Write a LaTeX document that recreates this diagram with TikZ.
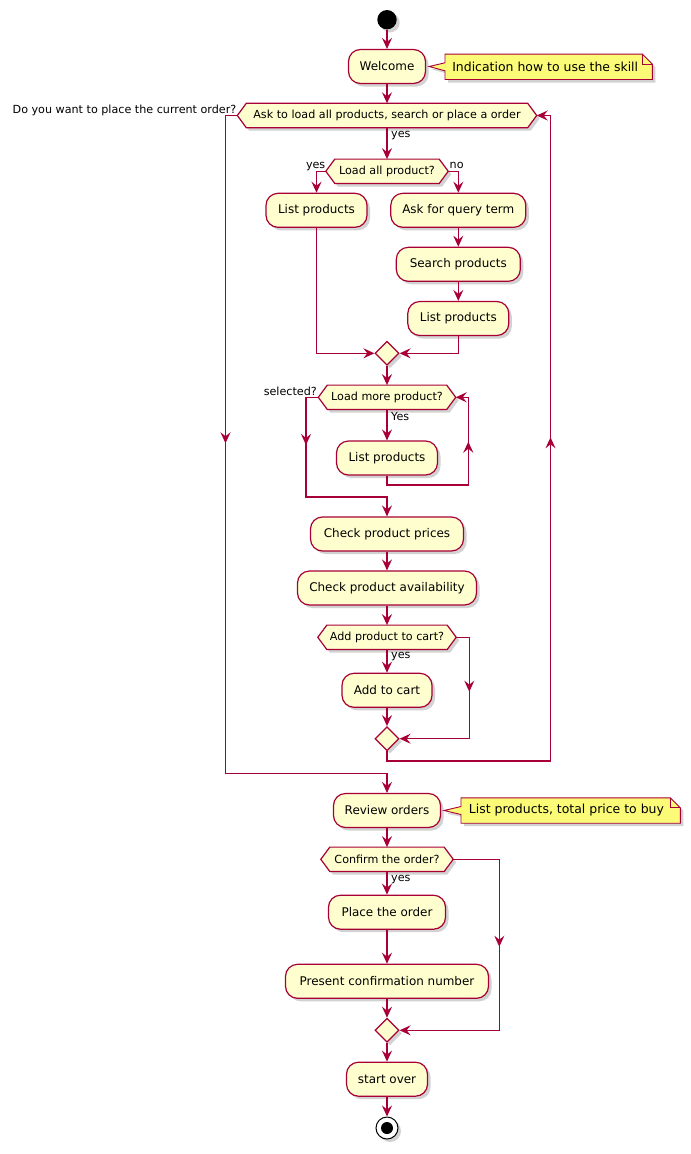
\documentclass[tikz,border=0pt]{standalone}
\usepackage{fontspec}
\setmainfont{DejaVu Sans}
\usetikzlibrary{shapes.geometric,arrows.meta,shadows,backgrounds,calc}
\definecolor{pbord}{HTML}{A80036}
\definecolor{pfill}{HTML}{FEFECE}
\definecolor{nfill}{HTML}{FBFB77}
\tikzset{
  shad/.style={drop shadow={shadow xshift=3bp,shadow yshift=-3bp,opacity=0.25,fill=black!70}},
  act/.style={rectangle, rounded corners=12bp, draw=pbord, fill=pfill, line width=1.2bp,
    minimum height=34bp, inner sep=0pt, font=\fontsize{12}{14}\selectfont, shad},
  dec/.style={rectangle, draw=none, minimum height=24bp, inner sep=0pt, font=\fontsize{11.2}{13}\selectfont},
  hex/.style={draw=pbord, fill=pfill, line width=1.2bp, shad},
  merge/.style={diamond, aspect=1, draw=pbord, fill=pfill, line width=1.2bp,
    minimum width=24bp, minimum height=24bp, inner sep=0pt, shad},
  flow/.style={draw=pbord, line width=1.4bp},
  arr/.style={flow, -{Stealth[length=11bp,width=10bp,inset=4bp]}},
  lbl/.style={font=\fontsize{11.2}{13}\selectfont, inner sep=0pt},
  notetext/.style={rectangle, draw=none, minimum height=25bp, inner sep=0pt, font=\fontsize{12.5}{15}\selectfont},
  notebox/.style={draw=pbord, fill=nfill, line width=0.9bp, shad},
}
\newcommand{\hexpath}[1]{%
  \path[hex] (#1.west) -- ($(#1.north west)+(9,0)$) -- ($(#1.north east)+(-9,0)$) -- (#1.east)
    -- ($(#1.south east)+(-9,0)$) -- ($(#1.south west)+(9,0)$) -- cycle;}
\newcommand{\notepath}[2]{%
  \path[notebox] (#1.north west) -- ($(#1.north east)+(-10,0)$) -- ($(#1.north east)+(0,10)$)
    -- (#1.south east) -- (#1.south west) -- ($(#1.west)+(0,4)$) -- ($(#2.east)+(3,0)$)
    -- ($(#1.west)+(0,-4)$) -- cycle;
  \draw[pbord, line width=0.9bp] ($(#1.north east)+(-10,0)$) -- ($(#1.north east)+(-10,10)$) -- ($(#1.north east)+(0,10)$);}
\begin{document}
\begin{tikzpicture}[x=1bp,y=-1bp]
\useasboundingbox (0,0) rectangle (691,1154);

% nodes
\node[circle, fill=black, minimum size=19.4bp, inner sep=0pt, shad] (start) at (387,19.7) {};
\node[act, minimum width=77bp] (welcome) at (387,66.5) {Welcome};
\node[notetext, minimum width=207bp, anchor=west] (n1) at (445,66.8) {Indication how to use the skill\kern7bp};
\node[dec, minimum width=299bp] (d1) at (387,115.5) {Ask to load all products, search or place a order};
\node[dec, minimum width=122bp] (d2) at (387,171.3) {Load all product?};
\node[act, minimum width=101bp] (lp1) at (316.5,210.3) {List products};
\node[act, minimum width=135bp] (ask) at (458.3,210.3) {Ask for query term};
\node[act, minimum width=124bp] (search) at (458.3,264.3) {Search products};
\node[act, minimum width=101bp] (lp2) at (458.3,318.5) {List products};
\node[merge] (m1) at (387,353.3) {};
\node[dec, minimum width=137bp] (d3) at (387,397.3) {Load more product?};
\node[act, minimum width=101bp] (lp3) at (387,458) {List products};
\node[act, minimum width=153bp] (prices) at (387,534) {Check product prices};
\node[act, minimum width=179bp] (avail) at (387,588) {Check product availability};
\node[dec, minimum width=138bp] (d4) at (387,637.3) {Add product to cart?};
\node[act, minimum width=90bp] (cart) at (387,690.3) {Add to cart};
\node[merge] (m2) at (387,738.7) {};
\node[act, minimum width=107bp] (review) at (387,810.5) {Review orders};
\node[notetext, minimum width=219bp, anchor=west] (n2) at (461,810.5) {List products, total price to buy\kern8.6bp};
\node[dec, minimum width=132bp] (d5) at (387,859.3) {Confirm the order?};
\node[act, minimum width=117bp] (place) at (387,912.2) {Place the order};
\node[act, minimum width=203bp] (present) at (387,981.3) {Present confirmation number};
\node[merge] (m3) at (387,1030.3) {};
\node[act, minimum width=81bp] (startover) at (387,1079.2) {start over};
\node[circle, draw=black, fill=white, line width=1bp, minimum size=22bp, inner sep=0pt, shad] (end) at (387,1128) {};
\fill[black] (end.center) circle[radius=6];

\begin{scope}[on background layer]
  \fill[white] (0,0) rectangle (691,1154);
  \hexpath{d1}\hexpath{d2}\hexpath{d3}\hexpath{d4}\hexpath{d5}
  \notepath{n1}{welcome}
  \notepath{n2}{review}
\end{scope}

% corner coordinates
\coordinate (c3b) at (468.3,485);
\coordinate (c3m) at (468.3,441.7);
\coordinate (c4a) at (306,497);
\coordinate (c4m) at (306,445);
\coordinate (c5) at (469.3,691.7);
\coordinate (c6a) at (550.5,761);
\coordinate (c6m) at (550.5,437.3);
\coordinate (c7a) at (225.5,773.3);
\coordinate (c7m) at (225.5,443.3);
\coordinate (c8) at (499.3,946.7);

% connectors
\draw[arr] (start) -- (welcome);
\draw[arr] (welcome) -- (d1);
\draw[arr] (d1) -- (d2);
\draw[arr] (d2.west) -| (lp1.north);
\draw[arr] (d2.east) -| (ask.north);
\draw[arr] (ask) -- (search);
\draw[arr] (search) -- (lp2);
\draw[arr] (lp1.south) |- (m1.west);
\draw[arr] (lp2.south) |- (m1.east);
\draw[arr] (m1) -- (d3);
\draw[arr] (d3) -- (lp3);
\draw[arr] (lp3.south) |- (c3b) |- (d3.east);
\draw[arr] ($(c3m)+(0,1)$) -- (c3m);
\draw[arr] (d3.west) -| (c4a) -| (prices.north);
\draw[arr] ($(c4m)+(0,-1)$) -- (c4m);
\draw[arr] (prices) -- (avail);
\draw[arr] (avail) -- (d4);
\draw[arr] (d4) -- (cart);
\draw[arr] (cart) -- (m2);
\draw[arr] (d4.east) -| (c5) |- (m2.east);
\draw[arr] ($(c5)+(0,-1)$) -- (c5);
\draw[arr] (m2.south) |- (c6a) |- (d1.east);
\draw[arr] ($(c6m)+(0,1)$) -- (c6m);
\draw[arr] (d1.west) -| (c7a) -| (review.north);
\draw[arr] ($(c7m)+(0,-1)$) -- (c7m);
\draw[arr] (review) -- (d5);
\draw[arr] (d5) -- (place);
\draw[arr] (place) -- (present);
\draw[arr] (present) -- (m3);
\draw[arr] (d5.east) -| (c8) |- (m3.east);
\draw[arr] ($(c8)+(0,-1)$) -- (c8);
\draw[arr] (m3) -- (startover);
\draw[arr] (startover) -- (end);

% labels
\node[lbl, anchor=base east] (l1) at (236.5,113) {Do you want to place the current order?};
\node[lbl, anchor=base west] (l2) at (391,137.5) {yes};
\node[lbl, anchor=base east] (l3) at (325.5,168.5) {yes};
\node[lbl, anchor=base west] (l4) at (449.5,168.5) {no};
\node[lbl, anchor=base east] (l5) at (317,395.5) {selected?};
\node[lbl, anchor=base west] (l6) at (391,420) {Yes};
\node[lbl, anchor=base west] (l7) at (391,658.5) {yes};
\node[lbl, anchor=base west] (l8) at (391,881.5) {yes};
\end{tikzpicture}
\end{document}
